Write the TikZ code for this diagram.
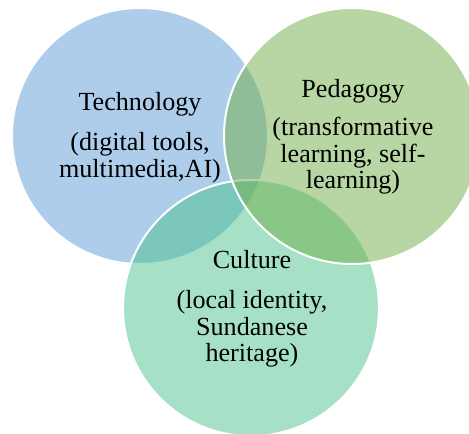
\documentclass[tikz,border=0pt]{standalone}
\usepackage{fontspec}
\setmainfont{Liberation Serif}
\usepackage{xcolor}
\usepackage{tikz}

\definecolor{techblue}{HTML}{5B9BD5}
\definecolor{pedgreen}{HTML}{70AD47}
\definecolor{cultteal}{HTML}{4DC38F}

\begin{document}
\begin{tikzpicture}[x=0.75pt, y=-0.75pt,
    venn/.style={circle, draw=white, line width=1.5pt, fill opacity=0.5, inner sep=0pt, minimum size=192pt},
    venntext/.style={align=center, anchor=north, inner sep=0pt, font=\fontsize{19.6}{20}\selectfont}]
    \useasboundingbox (0,0) rectangle (469,434);
    \clip (0,0) rectangle (469,434);

    % the three circles, green on top
    \node[venn, fill=techblue] (T) at (140,136) {};
    \node[venn, fill=cultteal] (C) at (251,308) {};
    \node[venn, fill=pedgreen] (P) at (352,136) {};

    \node[venntext] (Ttxt) at (140,92) {Technology\\[10pt](digital tools,\\multimedia,AI)};
    \node[venntext] (Ptxt) at (353,79) {Pedagogy\\[8.5pt](transformative\\learning, self-\\learning)};
    \node[venntext] (Ctxt) at (252,250) {Culture\\[10pt](local identity,\\Sundanese\\heritage)};
\end{tikzpicture}
\end{document}
